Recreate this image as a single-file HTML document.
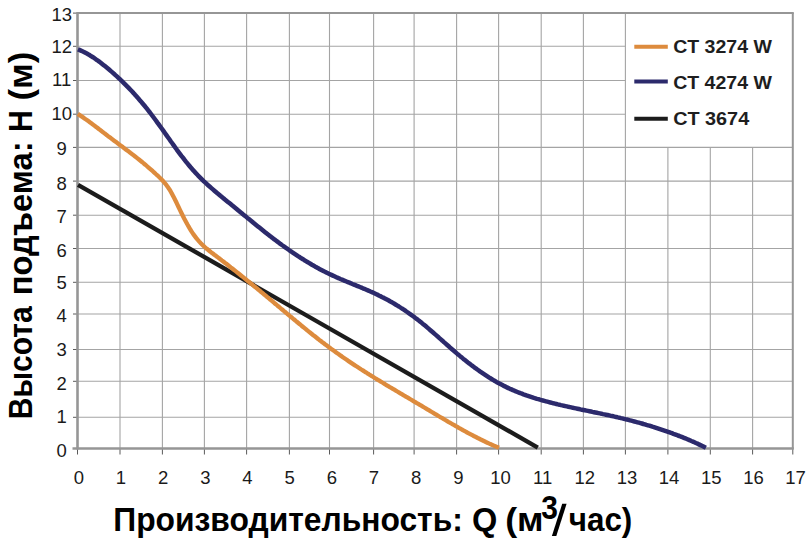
<!DOCTYPE html>
<html><head><meta charset="utf-8"><style>
html,body{margin:0;padding:0;background:#fff;}
body{width:812px;height:541px;overflow:hidden;font-family:"Liberation Sans",sans-serif;}
svg{display:block;}
</style></head><body>
<svg width="812" height="541" viewBox="0 0 812 541">
<rect x="0" y="0" width="812" height="541" fill="#fff"/>
<g stroke="#a4a4a4" stroke-width="1.1"><line x1="120.0" y1="13.1" x2="120.0" y2="448.5"/><line x1="162.4" y1="13.1" x2="162.4" y2="448.5"/><line x1="204.4" y1="13.1" x2="204.4" y2="448.5"/><line x1="246.6" y1="13.1" x2="246.6" y2="448.5"/><line x1="289.4" y1="13.1" x2="289.4" y2="448.5"/><line x1="329.5" y1="13.1" x2="329.5" y2="448.5"/><line x1="373.6" y1="13.1" x2="373.6" y2="448.5"/><line x1="414.1" y1="13.1" x2="414.1" y2="448.5"/><line x1="456.6" y1="13.1" x2="456.6" y2="448.5"/><line x1="498.6" y1="13.1" x2="498.6" y2="448.5"/><line x1="541.2" y1="13.1" x2="541.2" y2="448.5"/><line x1="583.4" y1="13.1" x2="583.4" y2="448.5"/><line x1="625.4" y1="13.1" x2="625.4" y2="448.5"/><line x1="667.9" y1="147.4" x2="667.9" y2="448.5"/><line x1="710.3" y1="147.4" x2="710.3" y2="448.5"/><line x1="752.6" y1="147.4" x2="752.6" y2="448.5"/><line x1="77.5" y1="417.3" x2="792.8" y2="417.3"/><line x1="77.5" y1="381.3" x2="792.8" y2="381.3"/><line x1="77.5" y1="349.5" x2="792.8" y2="349.5"/><line x1="77.5" y1="314.0" x2="792.8" y2="314.0"/><line x1="77.5" y1="282.3" x2="792.8" y2="282.3"/><line x1="77.5" y1="248.5" x2="792.8" y2="248.5"/><line x1="77.5" y1="215.2" x2="792.8" y2="215.2"/><line x1="77.5" y1="181.1" x2="792.8" y2="181.1"/><line x1="77.5" y1="147.4" x2="792.8" y2="147.4"/><line x1="77.5" y1="114.2" x2="625.4" y2="114.2"/><line x1="77.5" y1="80.5" x2="625.4" y2="80.5"/><line x1="77.5" y1="46.3" x2="625.4" y2="46.3"/></g>
<line x1="77.5" y1="13.1" x2="793.8" y2="13.1" stroke="#969696" stroke-width="2"/>
<line x1="792.8" y1="13.1" x2="792.8" y2="448.5" stroke="#969696" stroke-width="2"/>
<g stroke="#5a5a5a" stroke-width="1"><line x1="73" y1="448.5" x2="78" y2="448.5"/><line x1="73" y1="417.3" x2="78" y2="417.3"/><line x1="73" y1="381.3" x2="78" y2="381.3"/><line x1="73" y1="349.5" x2="78" y2="349.5"/><line x1="73" y1="314.0" x2="78" y2="314.0"/><line x1="73" y1="282.3" x2="78" y2="282.3"/><line x1="73" y1="248.5" x2="78" y2="248.5"/><line x1="73" y1="215.2" x2="78" y2="215.2"/><line x1="73" y1="181.1" x2="78" y2="181.1"/><line x1="73" y1="147.4" x2="78" y2="147.4"/><line x1="73" y1="114.2" x2="78" y2="114.2"/><line x1="73" y1="80.5" x2="78" y2="80.5"/><line x1="73" y1="46.3" x2="78" y2="46.3"/><line x1="73" y1="13.1" x2="78" y2="13.1"/><line x1="77.5" y1="448" x2="77.5" y2="454.5"/><line x1="120.0" y1="448" x2="120.0" y2="454.5"/><line x1="162.4" y1="448" x2="162.4" y2="454.5"/><line x1="204.4" y1="448" x2="204.4" y2="454.5"/><line x1="246.6" y1="448" x2="246.6" y2="454.5"/><line x1="289.4" y1="448" x2="289.4" y2="454.5"/><line x1="329.5" y1="448" x2="329.5" y2="454.5"/><line x1="373.6" y1="448" x2="373.6" y2="454.5"/><line x1="414.1" y1="448" x2="414.1" y2="454.5"/><line x1="456.6" y1="448" x2="456.6" y2="454.5"/><line x1="498.6" y1="448" x2="498.6" y2="454.5"/><line x1="541.2" y1="448" x2="541.2" y2="454.5"/><line x1="583.4" y1="448" x2="583.4" y2="454.5"/><line x1="625.4" y1="448" x2="625.4" y2="454.5"/><line x1="667.9" y1="448" x2="667.9" y2="454.5"/><line x1="710.3" y1="448" x2="710.3" y2="454.5"/><line x1="752.6" y1="448" x2="752.6" y2="454.5"/><line x1="792.8" y1="448" x2="792.8" y2="454.5"/></g>
<line x1="77.5" y1="12.1" x2="77.5" y2="449.5" stroke="#969696" stroke-width="2.6"/>
<line x1="72.5" y1="448.5" x2="793.8" y2="448.5" stroke="#969696" stroke-width="2.6"/>
<line x1="78" y1="184.8" x2="537.8" y2="447.6" stroke="#1c1c1c" stroke-width="4.3"/>
<path d="M77.8 113.9 L79.3 114.9 L80.8 115.9 L82.3 116.9 L83.8 117.9 L85.3 119.0 L86.8 120.0 L88.3 121.1 L89.8 122.2 L91.3 123.3 L92.8 124.4 L94.3 125.6 L95.8 126.7 L97.3 127.8 L98.8 129.0 L100.3 130.1 L101.8 131.3 L103.3 132.4 L104.8 133.6 L106.3 134.7 L107.8 135.9 L109.3 137.0 L110.8 138.1 L112.3 139.3 L113.8 140.4 L115.3 141.5 L116.8 142.6 L118.3 143.8 L119.8 144.9 L121.3 146.0 L122.8 147.1 L124.3 148.3 L125.8 149.4 L127.3 150.5 L128.8 151.6 L130.3 152.8 L131.8 153.9 L133.3 155.1 L134.8 156.2 L136.3 157.4 L137.8 158.6 L139.3 159.8 L140.8 161.0 L142.3 162.2 L143.8 163.5 L145.3 164.7 L146.8 166.0 L148.3 167.3 L149.8 168.6 L151.3 169.9 L152.8 171.2 L154.3 172.6 L155.8 174.0 L157.3 175.3 L158.8 176.8 L160.3 178.2 L161.8 179.7 L163.3 181.3 L164.8 183.1 L166.3 184.9 L167.8 187.0 L169.3 189.2 L170.8 191.7 L172.3 194.4 L173.8 197.3 L175.3 200.3 L176.8 203.3 L178.3 206.5 L179.8 209.6 L181.3 212.7 L182.8 215.7 L184.3 218.7 L185.8 221.5 L187.3 224.3 L188.8 226.9 L190.3 229.5 L191.8 231.8 L193.3 234.1 L194.8 236.1 L196.3 238.1 L197.8 239.9 L199.3 241.6 L200.8 243.2 L202.3 244.7 L203.8 246.2 L205.3 247.5 L206.8 248.8 L208.3 250.0 L209.8 251.2 L211.3 252.4 L212.8 253.5 L214.3 254.7 L215.8 255.8 L217.3 256.9 L218.8 258.1 L220.3 259.2 L221.8 260.4 L223.3 261.5 L224.8 262.7 L226.3 263.8 L227.8 265.0 L229.3 266.2 L230.8 267.4 L232.3 268.5 L233.8 269.7 L235.3 270.9 L236.8 272.1 L238.3 273.3 L239.8 274.5 L241.3 275.7 L242.8 276.9 L244.3 278.1 L245.8 279.3 L247.3 280.6 L248.8 281.8 L250.3 283.0 L251.8 284.2 L253.3 285.5 L254.8 286.7 L256.3 287.9 L257.8 289.2 L259.3 290.4 L260.8 291.7 L262.3 292.9 L263.8 294.2 L265.3 295.4 L266.8 296.7 L268.3 297.9 L269.8 299.2 L271.3 300.4 L272.8 301.7 L274.3 303.0 L275.8 304.2 L277.3 305.5 L278.8 306.7 L280.3 308.0 L281.8 309.3 L283.3 310.5 L284.8 311.8 L286.3 313.0 L287.8 314.3 L289.3 315.5 L290.8 316.8 L292.3 318.0 L293.8 319.3 L295.3 320.5 L296.8 321.8 L298.3 323.0 L299.8 324.2 L301.3 325.5 L302.8 326.7 L304.3 327.9 L305.8 329.1 L307.3 330.4 L308.8 331.6 L310.3 332.8 L311.8 334.0 L313.3 335.2 L314.8 336.3 L316.3 337.5 L317.8 338.7 L319.3 339.9 L320.8 341.0 L322.3 342.2 L323.8 343.3 L325.3 344.5 L326.8 345.6 L328.3 346.7 L329.8 347.8 L331.3 348.9 L332.8 350.0 L334.3 351.1 L335.8 352.2 L337.3 353.3 L338.8 354.3 L340.3 355.4 L341.8 356.4 L343.3 357.5 L344.8 358.5 L346.3 359.5 L347.8 360.6 L349.3 361.6 L350.8 362.6 L352.3 363.6 L353.8 364.6 L355.3 365.6 L356.8 366.5 L358.3 367.5 L359.8 368.5 L361.3 369.5 L362.8 370.4 L364.3 371.4 L365.8 372.3 L367.3 373.3 L368.8 374.2 L370.3 375.2 L371.8 376.1 L373.3 377.0 L374.8 378.0 L376.3 378.9 L377.8 379.8 L379.3 380.7 L380.8 381.6 L382.3 382.5 L383.8 383.4 L385.3 384.4 L386.8 385.3 L388.3 386.2 L389.8 387.1 L391.3 387.9 L392.8 388.8 L394.3 389.7 L395.8 390.6 L397.3 391.5 L398.8 392.4 L400.3 393.3 L401.8 394.2 L403.3 395.1 L404.8 396.0 L406.3 396.8 L407.8 397.7 L409.3 398.6 L410.8 399.5 L412.3 400.4 L413.8 401.3 L415.3 402.2 L416.8 403.1 L418.3 403.9 L419.8 404.8 L421.3 405.7 L422.8 406.6 L424.3 407.5 L425.8 408.4 L427.3 409.3 L428.8 410.2 L430.3 411.1 L431.8 412.0 L433.3 412.9 L434.8 413.8 L436.3 414.7 L437.8 415.6 L439.3 416.5 L440.8 417.4 L442.3 418.2 L443.8 419.1 L445.3 420.0 L446.8 420.9 L448.3 421.8 L449.8 422.6 L451.3 423.5 L452.8 424.4 L454.3 425.2 L455.8 426.1 L457.3 426.9 L458.8 427.8 L460.3 428.6 L461.8 429.5 L463.3 430.3 L464.8 431.1 L466.3 432.0 L467.8 432.8 L469.3 433.6 L470.8 434.4 L472.3 435.2 L473.8 436.0 L475.3 436.7 L476.8 437.5 L478.3 438.3 L479.8 439.0 L481.3 439.8 L482.8 440.5 L484.3 441.2 L485.8 442.0 L487.3 442.7 L488.8 443.4 L490.3 444.1 L491.8 444.7 L493.3 445.4 L494.8 446.1 L496.3 446.7 L497.8 447.3 L499.0 447.8" fill="none" stroke="#dd8b3d" stroke-width="4.3" stroke-linejoin="round"/>
<path d="M77.9 49.3 L79.4 49.9 L80.9 50.6 L82.4 51.3 L83.9 52.0 L85.4 52.8 L86.9 53.6 L88.4 54.4 L89.9 55.3 L91.4 56.3 L92.9 57.2 L94.4 58.2 L95.9 59.3 L97.4 60.3 L98.9 61.4 L100.4 62.5 L101.9 63.7 L103.4 64.9 L104.9 66.1 L106.4 67.3 L107.9 68.5 L109.4 69.8 L110.9 71.1 L112.4 72.4 L113.9 73.7 L115.4 75.1 L116.9 76.4 L118.4 77.8 L119.9 79.2 L121.4 80.6 L122.9 82.1 L124.4 83.6 L125.9 85.1 L127.4 86.6 L128.9 88.1 L130.4 89.7 L131.9 91.3 L133.4 92.9 L134.9 94.6 L136.4 96.2 L137.9 97.9 L139.4 99.7 L140.9 101.4 L142.4 103.2 L143.9 105.0 L145.4 106.8 L146.9 108.7 L148.4 110.6 L149.9 112.5 L151.4 114.5 L152.9 116.5 L154.4 118.5 L155.9 120.5 L157.4 122.6 L158.9 124.6 L160.4 126.7 L161.9 128.8 L163.4 130.9 L164.9 133.0 L166.4 135.1 L167.9 137.2 L169.4 139.3 L170.9 141.5 L172.4 143.5 L173.9 145.6 L175.4 147.7 L176.9 149.8 L178.4 151.8 L179.9 153.8 L181.4 155.8 L182.9 157.7 L184.4 159.7 L185.9 161.6 L187.4 163.4 L188.9 165.2 L190.4 167.0 L191.9 168.7 L193.4 170.4 L194.9 172.1 L196.4 173.7 L197.9 175.3 L199.4 176.8 L200.9 178.3 L202.4 179.8 L203.9 181.3 L205.4 182.7 L206.9 184.1 L208.4 185.5 L209.9 186.8 L211.4 188.1 L212.9 189.4 L214.4 190.7 L215.9 192.0 L217.4 193.3 L218.9 194.5 L220.4 195.8 L221.9 197.0 L223.4 198.2 L224.9 199.5 L226.4 200.7 L227.9 201.9 L229.4 203.1 L230.9 204.3 L232.4 205.6 L233.9 206.8 L235.4 208.0 L236.9 209.2 L238.4 210.5 L239.9 211.7 L241.4 212.9 L242.9 214.2 L244.4 215.4 L245.9 216.6 L247.4 217.9 L248.9 219.1 L250.4 220.3 L251.9 221.5 L253.4 222.8 L254.9 224.0 L256.4 225.2 L257.9 226.4 L259.4 227.6 L260.9 228.8 L262.4 230.0 L263.9 231.2 L265.4 232.4 L266.9 233.6 L268.4 234.7 L269.9 235.9 L271.4 237.1 L272.9 238.2 L274.4 239.4 L275.9 240.5 L277.4 241.6 L278.9 242.7 L280.4 243.9 L281.9 245.0 L283.4 246.0 L284.9 247.1 L286.4 248.2 L287.9 249.2 L289.4 250.3 L290.9 251.3 L292.4 252.4 L293.9 253.4 L295.4 254.4 L296.9 255.4 L298.4 256.4 L299.9 257.3 L301.4 258.3 L302.9 259.2 L304.4 260.2 L305.9 261.1 L307.4 262.0 L308.9 262.9 L310.4 263.8 L311.9 264.7 L313.4 265.5 L314.9 266.4 L316.4 267.2 L317.9 268.1 L319.4 268.9 L320.9 269.7 L322.4 270.5 L323.9 271.3 L325.4 272.0 L326.9 272.8 L328.4 273.5 L329.9 274.2 L331.4 274.9 L332.9 275.6 L334.4 276.3 L335.9 277.0 L337.4 277.7 L338.9 278.3 L340.4 279.0 L341.9 279.6 L343.4 280.2 L344.9 280.9 L346.4 281.5 L347.9 282.1 L349.4 282.7 L350.9 283.3 L352.4 284.0 L353.9 284.6 L355.4 285.2 L356.9 285.8 L358.4 286.4 L359.9 287.0 L361.4 287.6 L362.9 288.3 L364.4 288.9 L365.9 289.5 L367.4 290.2 L368.9 290.8 L370.4 291.5 L371.9 292.1 L373.4 292.8 L374.9 293.5 L376.4 294.2 L377.9 294.9 L379.4 295.7 L380.9 296.4 L382.4 297.2 L383.9 297.9 L385.4 298.7 L386.9 299.5 L388.4 300.3 L389.9 301.2 L391.4 302.0 L392.9 302.9 L394.4 303.8 L395.9 304.7 L397.4 305.6 L398.9 306.5 L400.4 307.5 L401.9 308.5 L403.4 309.4 L404.9 310.4 L406.4 311.5 L407.9 312.5 L409.4 313.6 L410.9 314.6 L412.4 315.7 L413.9 316.8 L415.4 318.0 L416.9 319.1 L418.4 320.3 L419.9 321.4 L421.4 322.6 L422.9 323.9 L424.4 325.1 L425.9 326.3 L427.4 327.6 L428.9 328.9 L430.4 330.2 L431.9 331.5 L433.4 332.8 L434.9 334.1 L436.4 335.4 L437.9 336.7 L439.4 338.1 L440.9 339.4 L442.4 340.7 L443.9 342.1 L445.4 343.4 L446.9 344.7 L448.4 346.0 L449.9 347.4 L451.4 348.7 L452.9 350.0 L454.4 351.3 L455.9 352.6 L457.4 353.9 L458.9 355.1 L460.4 356.4 L461.9 357.6 L463.4 358.9 L464.9 360.1 L466.4 361.3 L467.9 362.5 L469.4 363.6 L470.9 364.8 L472.4 365.9 L473.9 367.0 L475.4 368.2 L476.9 369.2 L478.4 370.3 L479.9 371.4 L481.4 372.4 L482.9 373.4 L484.4 374.4 L485.9 375.4 L487.4 376.4 L488.9 377.4 L490.4 378.3 L491.9 379.2 L493.4 380.1 L494.9 381.0 L496.4 381.9 L497.9 382.7 L499.4 383.5 L500.9 384.3 L502.4 385.1 L503.9 385.9 L505.4 386.6 L506.9 387.4 L508.4 388.1 L509.9 388.8 L511.4 389.4 L512.9 390.1 L514.4 390.7 L515.9 391.4 L517.4 392.0 L518.9 392.6 L520.4 393.2 L521.9 393.7 L523.4 394.3 L524.9 394.8 L526.4 395.4 L527.9 395.9 L529.4 396.4 L530.9 396.9 L532.4 397.4 L533.9 397.9 L535.4 398.3 L536.9 398.8 L538.4 399.2 L539.9 399.7 L541.4 400.1 L542.9 400.5 L544.4 400.9 L545.9 401.3 L547.4 401.7 L548.9 402.1 L550.4 402.5 L551.9 402.9 L553.4 403.3 L554.9 403.6 L556.4 404.0 L557.9 404.4 L559.4 404.7 L560.9 405.1 L562.4 405.4 L563.9 405.8 L565.4 406.1 L566.9 406.4 L568.4 406.8 L569.9 407.1 L571.4 407.4 L572.9 407.8 L574.4 408.1 L575.9 408.4 L577.4 408.7 L578.9 409.0 L580.4 409.4 L581.9 409.7 L583.4 410.0 L584.9 410.3 L586.4 410.6 L587.9 410.9 L589.4 411.2 L590.9 411.5 L592.4 411.9 L593.9 412.2 L595.4 412.5 L596.9 412.8 L598.4 413.1 L599.9 413.4 L601.4 413.7 L602.9 414.1 L604.4 414.4 L605.9 414.7 L607.4 415.0 L608.9 415.3 L610.4 415.7 L611.9 416.0 L613.4 416.3 L614.9 416.7 L616.4 417.0 L617.9 417.4 L619.4 417.7 L620.9 418.1 L622.4 418.4 L623.9 418.8 L625.4 419.2 L626.9 419.5 L628.4 419.9 L629.9 420.3 L631.4 420.7 L632.9 421.1 L634.4 421.5 L635.9 421.9 L637.4 422.3 L638.9 422.7 L640.4 423.1 L641.9 423.5 L643.4 424.0 L644.9 424.4 L646.4 424.9 L647.9 425.3 L649.4 425.7 L650.9 426.2 L652.4 426.7 L653.9 427.1 L655.4 427.6 L656.9 428.1 L658.4 428.6 L659.9 429.1 L661.4 429.6 L662.9 430.1 L664.4 430.6 L665.9 431.1 L667.4 431.6 L668.9 432.1 L670.4 432.7 L671.9 433.2 L673.4 433.8 L674.9 434.3 L676.4 434.9 L677.9 435.5 L679.4 436.0 L680.9 436.6 L682.4 437.2 L683.9 437.8 L685.4 438.4 L686.9 439.0 L688.4 439.7 L689.9 440.3 L691.4 441.0 L692.9 441.6 L694.4 442.3 L695.9 443.0 L697.4 443.6 L698.9 444.4 L700.4 445.1 L701.9 445.8 L703.4 446.5 L704.9 447.3 L705.9 447.8" fill="none" stroke="#2c2a6c" stroke-width="4.5" stroke-linejoin="round"/>
<line x1="634.3" y1="46.7" x2="667.8" y2="46.7" stroke="#dd8b3d" stroke-width="4"/>
<line x1="634.3" y1="81.6" x2="667.8" y2="81.6" stroke="#2c2a6c" stroke-width="4"/>
<line x1="634.3" y1="118.7" x2="667.8" y2="118.7" stroke="#1c1c1c" stroke-width="4"/>
<text x="673.17" y="52.7" font-family="Liberation Sans" font-weight="bold" font-size="19" fill="#1e1e1e" textLength="98.72" lengthAdjust="spacingAndGlyphs">CT 3274 W</text>
<text x="673.17" y="88.5" font-family="Liberation Sans" font-weight="bold" font-size="19" fill="#1e1e1e" textLength="98.72" lengthAdjust="spacingAndGlyphs">CT 4274 W</text>
<text x="673.16" y="125.0" font-family="Liberation Sans" font-weight="bold" font-size="19" fill="#1e1e1e" textLength="76.01" lengthAdjust="spacingAndGlyphs">CT 3674</text>
<text x="61.7" y="456.7" font-family="Liberation Sans" font-size="18.5" fill="#1a1a1a" text-anchor="middle">0</text>
<text x="61.7" y="423.4" font-family="Liberation Sans" font-size="18.5" fill="#1a1a1a" text-anchor="middle">1</text>
<text x="61.7" y="389.8" font-family="Liberation Sans" font-size="18.5" fill="#1a1a1a" text-anchor="middle">2</text>
<text x="61.7" y="356.1" font-family="Liberation Sans" font-size="18.5" fill="#1a1a1a" text-anchor="middle">3</text>
<text x="61.7" y="322.3" font-family="Liberation Sans" font-size="18.5" fill="#1a1a1a" text-anchor="middle">4</text>
<text x="61.7" y="289.1" font-family="Liberation Sans" font-size="18.5" fill="#1a1a1a" text-anchor="middle">5</text>
<text x="61.7" y="257.0" font-family="Liberation Sans" font-size="18.5" fill="#1a1a1a" text-anchor="middle">6</text>
<text x="61.7" y="223.1" font-family="Liberation Sans" font-size="18.5" fill="#1a1a1a" text-anchor="middle">7</text>
<text x="61.7" y="189.6" font-family="Liberation Sans" font-size="18.5" fill="#1a1a1a" text-anchor="middle">8</text>
<text x="61.7" y="155.0" font-family="Liberation Sans" font-size="18.5" fill="#1a1a1a" text-anchor="middle">9</text>
<text x="61.7" y="120.4" font-family="Liberation Sans" font-size="18.5" fill="#1a1a1a" text-anchor="middle">10</text>
<text x="61.7" y="86.1" font-family="Liberation Sans" font-size="18.5" fill="#1a1a1a" text-anchor="middle">11</text>
<text x="61.7" y="53.4" font-family="Liberation Sans" font-size="18.5" fill="#1a1a1a" text-anchor="middle">12</text>
<text x="61.7" y="21.1" font-family="Liberation Sans" font-size="18.5" fill="#1a1a1a" text-anchor="middle">13</text>
<text x="78.8" y="484.0" font-family="Liberation Sans" font-size="18.5" fill="#1a1a1a" text-anchor="middle">0</text>
<text x="120.9" y="484.0" font-family="Liberation Sans" font-size="18.5" fill="#1a1a1a" text-anchor="middle">1</text>
<text x="163.1" y="484.0" font-family="Liberation Sans" font-size="18.5" fill="#1a1a1a" text-anchor="middle">2</text>
<text x="205.3" y="484.0" font-family="Liberation Sans" font-size="18.5" fill="#1a1a1a" text-anchor="middle">3</text>
<text x="247.4" y="484.0" font-family="Liberation Sans" font-size="18.5" fill="#1a1a1a" text-anchor="middle">4</text>
<text x="289.6" y="484.0" font-family="Liberation Sans" font-size="18.5" fill="#1a1a1a" text-anchor="middle">5</text>
<text x="331.8" y="484.0" font-family="Liberation Sans" font-size="18.5" fill="#1a1a1a" text-anchor="middle">6</text>
<text x="373.9" y="484.0" font-family="Liberation Sans" font-size="18.5" fill="#1a1a1a" text-anchor="middle">7</text>
<text x="416.1" y="484.0" font-family="Liberation Sans" font-size="18.5" fill="#1a1a1a" text-anchor="middle">8</text>
<text x="458.3" y="484.0" font-family="Liberation Sans" font-size="18.5" fill="#1a1a1a" text-anchor="middle">9</text>
<text x="500.5" y="484.0" font-family="Liberation Sans" font-size="18.5" fill="#1a1a1a" text-anchor="middle">10</text>
<text x="542.6" y="484.0" font-family="Liberation Sans" font-size="18.5" fill="#1a1a1a" text-anchor="middle">11</text>
<text x="584.8" y="484.0" font-family="Liberation Sans" font-size="18.5" fill="#1a1a1a" text-anchor="middle">12</text>
<text x="627.0" y="484.0" font-family="Liberation Sans" font-size="18.5" fill="#1a1a1a" text-anchor="middle">13</text>
<text x="669.1" y="484.0" font-family="Liberation Sans" font-size="18.5" fill="#1a1a1a" text-anchor="middle">14</text>
<text x="711.3" y="484.0" font-family="Liberation Sans" font-size="18.5" fill="#1a1a1a" text-anchor="middle">15</text>
<text x="753.5" y="484.0" font-family="Liberation Sans" font-size="18.5" fill="#1a1a1a" text-anchor="middle">16</text>
<text x="795.6" y="484.0" font-family="Liberation Sans" font-size="18.5" fill="#1a1a1a" text-anchor="middle">17</text>
<text transform="translate(31.8,417.4) rotate(-90)" x="-1.88" y="0" font-family="Liberation Sans" font-weight="bold" font-size="33" fill="#000" textLength="112.96" lengthAdjust="spacingAndGlyphs">Высота</text>
<text transform="translate(31.8,293.2) rotate(-90)" x="-2.04" y="0" font-family="Liberation Sans" font-weight="bold" font-size="33" fill="#000" textLength="153.74" lengthAdjust="spacingAndGlyphs">подъема:</text>
<text transform="translate(31.8,130.0) rotate(-90)" x="-1.88" y="0" font-family="Liberation Sans" font-weight="bold" font-size="33" fill="#000" textLength="21.77" lengthAdjust="spacingAndGlyphs">H</text>
<text transform="translate(31.8,98.4) rotate(-90)" x="-2.18" y="0" font-family="Liberation Sans" font-weight="bold" font-size="33" fill="#000" textLength="48.93" lengthAdjust="spacingAndGlyphs">(м)</text>
<text x="113.31" y="530.6" font-family="Liberation Sans" font-weight="bold" font-size="33" fill="#000" textLength="349.52" lengthAdjust="spacingAndGlyphs">Производительность:</text>
<text x="471.88" y="530.6" font-family="Liberation Sans" font-weight="bold" font-size="33" fill="#000" textLength="25.32" lengthAdjust="spacingAndGlyphs">Q</text>
<text x="505.16" y="530.6" font-family="Liberation Sans" font-weight="bold" font-size="33" fill="#000" textLength="38.45" lengthAdjust="spacingAndGlyphs">(м</text>
<text x="568.72" y="530.6" font-family="Liberation Sans" font-weight="bold" font-size="33" fill="#000" textLength="63.57" lengthAdjust="spacingAndGlyphs">час)</text>
<polygon points="551.9,536.1 556.3,536.1 566.6,503.8 562.2,503.8" fill="#000"/>
<text x="541.36" y="518.7" font-family="Liberation Sans" font-weight="bold" font-size="33" fill="#000" textLength="16.68" lengthAdjust="spacingAndGlyphs">3</text>
</svg>
</body></html>
